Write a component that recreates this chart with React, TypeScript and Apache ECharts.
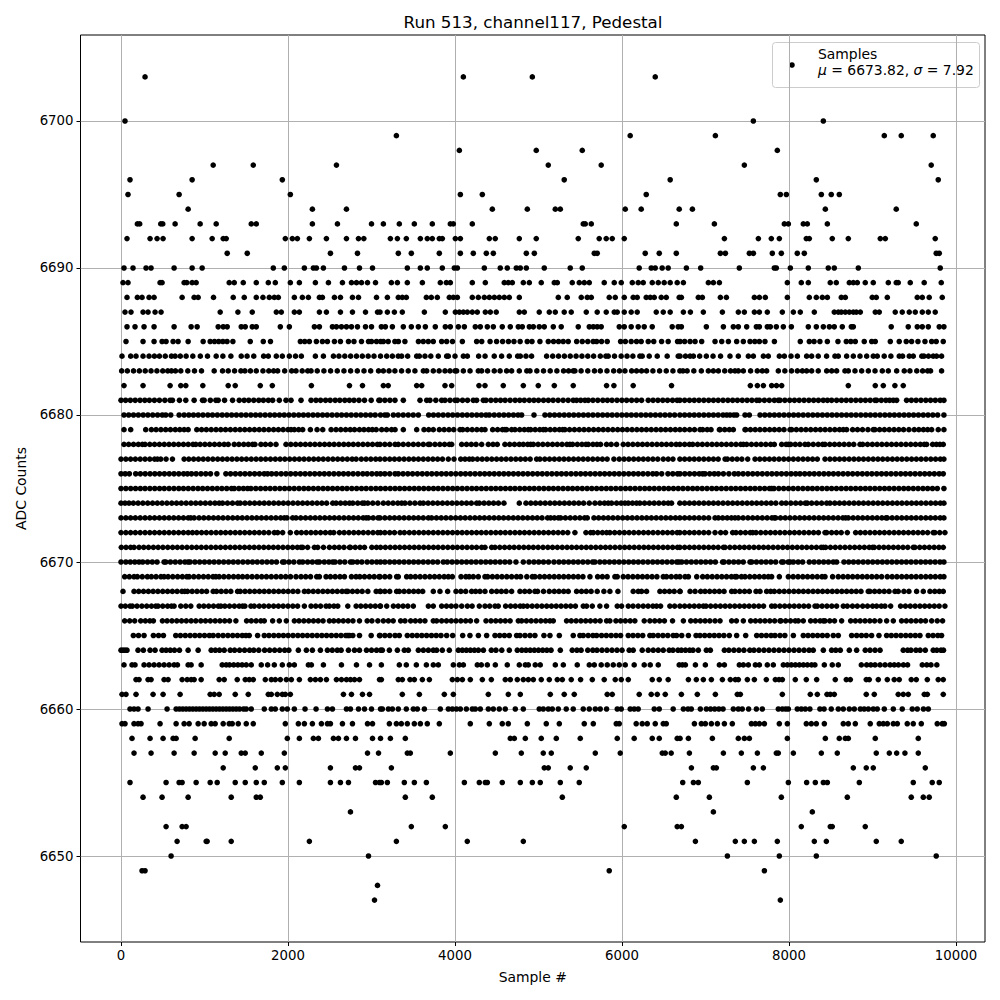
import React, { useEffect, useRef } from "react";
import * as echarts from "echarts";

// Sample numbers, one list per ADC level.
const s6703 = [288, 4100, 4926, 6398];
const s6700 = [48, 7573, 8411];
const s6699 = [3298, 6098, 7118, 9141, 9344, 9727];
const s6698 = [4052, 4973, 5524, 7860];
const s6697 = [1104, 1584, 2580, 5117, 5751, 7465, 9703];
const s6696 = [108, 852, 1932, 5308, 6577, 8327, 9787];
const s6695 = [84, 696, 2028, 4064, 4327, 6290, 7896, 7968, 8387, 8506, 8602];
const s6694 = [804, 2292, 2700, 4447, 4866, 5201, 5261, 6039, 6230, 6685, 6843, 8435, 9284];
const s6693 = [196, 224, 476, 500, 648, 948, 1140, 1560, 1620, 2292, 2592, 3000, 3142, 3333, 3513, 3728, 3944, 3980, 4207, 5536, 5560, 5632, 6650, 7106, 7944, 7992, 8171, 8219, 8459, 9524];
const s6692 = [72, 348, 432, 504, 852, 1092, 1224, 1260, 1968, 2052, 2112, 2256, 2460, 2700, 2844, 2908, 3226, 3310, 3417, 3585, 3668, 3728, 3812, 3848, 4004, 4064, 4411, 4482, 4770, 4973, 5476, 5727, 5811, 5883, 6027, 7226, 7633, 7788, 7884, 8207, 8243, 8518, 8710, 9093, 9153, 9751];
const s6691 = [1272, 1512, 2508, 2832, 3321, 3477, 3812, 4064, 4219, 4375, 4459, 4854, 4950, 5668, 5703, 6278, 6446, 6650, 7178, 7238, 7525, 7573, 7800, 7908, 8099, 8183, 9763, 9799];
const s6690 = [36, 144, 300, 360, 636, 852, 972, 1824, 1956, 2196, 2304, 2340, 2424, 2676, 2856, 3012, 3429, 3585, 3668, 3848, 3992, 4028, 4351, 4542, 4626, 4734, 4782, 4854, 5069, 5380, 5524, 6206, 6350, 6398, 6481, 6553, 6771, 6942, 7405, 7824, 7848, 8016, 8231, 8470, 8542, 8830, 9811];
const s6689 = [24, 84, 468, 492, 756, 788, 852, 900, 1296, 1356, 1464, 1620, 1764, 1848, 2028, 2136, 2328, 2484, 2652, 2760, 2820, 2880, 2952, 3048, 3238, 3310, 3429, 3609, 3824, 3896, 3944, 4207, 4363, 4590, 4638, 4686, 4818, 4890, 5033, 5189, 5225, 5404, 5488, 5548, 5608, 5787, 5907, 5991, 6123, 6194, 6254, 6362, 6434, 6505, 6577, 6661, 6735, 7034, 7094, 7166, 7980, 8147, 8231, 8494, 8566, 8722, 8770, 8818, 8913, 9009, 9189, 9284, 9308, 9452, 9619, 9823];
const s6688 = [72, 196, 252, 336, 396, 732, 876, 924, 1108, 1344, 1476, 1620, 1700, 1776, 1836, 1884, 2076, 2172, 2244, 2376, 2412, 2556, 2628, 2772, 2844, 3060, 3190, 3321, 3369, 3417, 3657, 3716, 3788, 3932, 3980, 4028, 4207, 4279, 4351, 4411, 4471, 4530, 4590, 4650, 4770, 5237, 5344, 5512, 5584, 5632, 5847, 5919, 6027, 6134, 6182, 6290, 6338, 6386, 6470, 6530, 6685, 6711, 6914, 6962, 7178, 7250, 7585, 7645, 7716, 7980, 8243, 8327, 8399, 8459, 8626, 8674, 8997, 9045, 9177, 9536, 9596, 9679, 9835];
const s6687 = [48, 120, 264, 324, 408, 480, 1188, 1400, 1572, 1860, 1920, 2076, 2136, 2376, 2460, 2628, 2772, 2928, 3072, 3102, 3190, 3274, 3369, 3633, 3884, 4004, 4052, 4100, 4148, 4207, 4267, 4363, 4423, 4494, 4770, 4830, 5009, 5129, 5201, 5308, 5392, 5572, 5703, 5811, 5907, 5943, 6027, 6110, 6182, 6410, 6494, 6577, 6735, 6819, 6974, 7202, 7393, 7465, 7585, 7645, 7740, 7920, 8052, 8135, 8303, 8542, 8590, 8626, 8674, 8722, 8770, 8806, 8854, 9033, 9081, 9272, 9356, 9440, 9512, 9596, 9668, 9751];
const s6686 = [72, 168, 276, 396, 636, 840, 912, 1164, 1224, 1272, 1440, 1488, 1572, 1620, 1908, 2016, 2316, 2376, 2532, 2580, 2640, 2700, 2760, 2832, 2928, 3000, 3118, 3166, 3250, 3381, 3477, 3561, 3645, 3764, 3884, 3944, 4040, 4112, 4243, 4303, 4387, 4459, 4566, 4662, 4758, 4806, 4890, 4938, 5009, 5069, 5177, 5272, 5476, 5608, 5656, 5703, 5751, 5967, 6027, 6110, 6194, 6266, 6362, 6601, 6673, 6711, 7010, 7214, 7333, 7393, 7493, 7609, 7645, 7740, 7776, 7848, 7932, 8028, 8231, 8327, 8411, 8483, 8542, 8638, 8746, 8770, 9224, 9428, 9536, 9596, 9668, 9799, 9855];
const s6685 = [60, 264, 396, 492, 540, 624, 684, 804, 984, 1068, 1120, 1170, 1220, 1270, 1340, 1548, 1704, 1790, 2148, 2200, 2256, 2340, 2412, 2472, 2556, 2628, 2724, 2790, 2880, 2964, 3000, 3060, 3110, 3142, 3200, 3280, 3322, 3400, 3562, 3620, 3680, 3740, 3840, 3900, 3970, 4088, 4259, 4320, 4420, 4498, 4570, 4640, 4706, 4780, 4865, 4922, 5017, 5117, 5180, 5240, 5296, 5356, 5457, 5524, 5590, 5655, 5696, 5755, 5823, 5983, 6040, 6110, 6174, 6230, 6314, 6380, 6474, 6553, 6665, 6695, 6750, 6815, 6875, 6954, 7114, 7194, 7274, 7373, 7453, 7533, 7590, 7645, 7712, 7825, 8135, 8243, 8300, 8370, 8459, 8586, 8686, 8740, 8794, 8901, 8990, 9033, 9213, 9320, 9404, 9468, 9544, 9628, 9708, 9763, 9847];
const s6684 = [12, 116, 180, 264, 336, 400, 460, 530, 604, 648, 710, 780, 860, 950, 1036, 1140, 1220, 1316, 1440, 1510, 1590, 1708, 1764, 1860, 1932, 2016, 2090, 2160, 2328, 2424, 2544, 2610, 2680, 2750, 2820, 2890, 2960, 3030, 3108, 3182, 3250, 3320, 3361, 3433, 3541, 3573, 3640, 3710, 3800, 3900, 3920, 4000, 4100, 4148, 4283, 4360, 4470, 4558, 4650, 4750, 4782, 4850, 4917, 5097, 5170, 5240, 5310, 5380, 5450, 5520, 5590, 5660, 5740, 5807, 5835, 5910, 5990, 6060, 6130, 6214, 6242, 6326, 6422, 6541, 6673, 6695, 6760, 6815, 6855, 6930, 7010, 7090, 7180, 7293, 7393, 7513, 7573, 7693, 7752, 7884, 7944, 8024, 8100, 8211, 8271, 8350, 8450, 8550, 8590, 8690, 8770, 8850, 8930, 9009, 9057, 9140, 9220, 9320, 9360, 9440, 9488, 9590, 9616, 9670, 9727, 9767, 9827];
const s6683 = [8, 76, 150, 220, 290, 360, 430, 500, 560, 604, 652, 716, 800, 880, 964, 1116, 1216, 1284, 1360, 1436, 1484, 1550, 1620, 1700, 1770, 1828, 1876, 1960, 2044, 2096, 2170, 2236, 2276, 2350, 2430, 2510, 2590, 2670, 2750, 2830, 2910, 2990, 3084, 3142, 3210, 3280, 3360, 3440, 3520, 3621, 3661, 3740, 3810, 3880, 3940, 4000, 4020, 4100, 4180, 4279, 4319, 4390, 4470, 4540, 4618, 4678, 4770, 4860, 4898, 4980, 5060, 5140, 5220, 5300, 5360, 5416, 5436, 5510, 5590, 5670, 5740, 5820, 5900, 5970, 6035, 6115, 6174, 6234, 6294, 6370, 6450, 6530, 6610, 6693, 6730, 6780, 6860, 6950, 7034, 7094, 7154, 7230, 7300, 7353, 7393, 7453, 7540, 7620, 7680, 7732, 7872, 7950, 8030, 8100, 8160, 8211, 8271, 8350, 8451, 8511, 8570, 8670, 8710, 8790, 8870, 8950, 9030, 9117, 9189, 9289, 9380, 9448, 9530, 9600, 9660, 9695, 9827];
const s6682 = [36, 264, 588, 716, 776, 980, 1284, 1368, 1668, 1812, 2280, 2736, 2892, 3142, 3200, 3541, 3601, 3880, 3960, 4287, 4359, 4578, 4818, 4997, 5189, 5416, 5815, 5903, 6134, 6593, 7537, 7621, 7693, 7792, 7850, 7912, 8710, 9033, 9129, 9268, 9368];
const s6681 = [0, 55, 112, 170, 228, 285, 340, 400, 460, 525, 588, 616, 700, 776, 876, 976, 996, 1070, 1136, 1164, 1240, 1336, 1416, 1475, 1530, 1590, 1650, 1705, 1765, 1816, 1896, 1976, 2036, 2156, 2276, 2335, 2390, 2450, 2505, 2565, 2620, 2680, 2735, 2790, 2850, 2916, 2996, 3088, 3102, 3160, 3220, 3281, 3381, 3581, 3661, 3700, 3770, 3840, 3880, 3940, 4000, 4028, 4090, 4150, 4219, 4259, 4339, 4371, 4430, 4488, 4545, 4600, 4660, 4720, 4775, 4830, 4890, 4945, 5000, 5060, 5118, 5175, 5235, 5295, 5355, 5416, 5456, 5505, 5556, 5596, 5652, 5710, 5770, 5825, 5880, 5940, 5998, 6055, 6115, 6175, 6234, 6314, 6372, 6430, 6488, 6545, 6605, 6660, 6693, 6750, 6808, 6865, 6922, 6980, 7038, 7095, 7152, 7210, 7268, 7325, 7382, 7440, 7498, 7555, 7613, 7645, 7705, 7764, 7824, 7872, 7892, 7950, 8008, 8065, 8122, 8180, 8238, 8295, 8352, 8410, 8460, 8510, 8570, 8628, 8685, 8742, 8800, 8858, 8915, 8972, 9029, 9049, 9105, 9160, 9205, 9249, 9289, 9408, 9465, 9522, 9580, 9638, 9695, 9752, 9810, 9855];
const s6680 = [36, 92, 150, 208, 266, 322, 380, 438, 495, 536, 596, 696, 756, 812, 868, 925, 982, 1040, 1096, 1154, 1212, 1268, 1325, 1382, 1440, 1497, 1555, 1612, 1668, 1726, 1784, 1840, 1898, 1955, 2012, 2070, 2128, 2185, 2242, 2300, 2356, 2414, 2470, 2528, 2586, 2642, 2700, 2757, 2815, 2872, 2930, 2988, 3044, 3108, 3160, 3190, 3262, 3320, 3380, 3440, 3500, 3561, 3685, 3742, 3800, 3858, 3916, 3972, 4030, 4088, 4145, 4202, 4260, 4316, 4371, 4411, 4470, 4528, 4585, 4642, 4700, 4755, 4798, 4946, 5077, 5135, 5192, 5250, 5308, 5365, 5422, 5480, 5538, 5595, 5652, 5710, 5768, 5825, 5882, 5940, 5998, 6055, 6112, 6170, 6228, 6285, 6342, 6400, 6458, 6515, 6572, 6630, 6693, 6750, 6808, 6865, 6922, 6980, 7038, 7095, 7152, 7210, 7254, 7294, 7340, 7373, 7473, 7525, 7653, 7710, 7768, 7825, 7882, 7940, 7998, 8055, 8112, 8170, 8228, 8285, 8342, 8400, 8458, 8515, 8572, 8630, 8688, 8745, 8802, 8860, 8918, 8975, 9032, 9090, 9148, 9205, 9262, 9320, 9378, 9435, 9492, 9550, 9608, 9665, 9722, 9780, 9855];
const s6679 = [36, 116, 296, 364, 420, 478, 535, 592, 650, 704, 756, 804, 908, 965, 1022, 1080, 1138, 1195, 1252, 1310, 1368, 1425, 1482, 1540, 1598, 1655, 1712, 1770, 1828, 1885, 1942, 2000, 2036, 2076, 2128, 2176, 2268, 2348, 2416, 2516, 2575, 2632, 2690, 2745, 2796, 2856, 2910, 2965, 3010, 3056, 3122, 3180, 3240, 3282, 3381, 3541, 3629, 3685, 3740, 3812, 3870, 3928, 3985, 4060, 4092, 4148, 4205, 4262, 4318, 4359, 4451, 4510, 4568, 4598, 4618, 4678, 4718, 4775, 4830, 4878, 4906, 4960, 5015, 5057, 5085, 5140, 5195, 5250, 5290, 5316, 5372, 5430, 5488, 5545, 5602, 5660, 5718, 5775, 5832, 5890, 5948, 6005, 6062, 6120, 6178, 6235, 6292, 6350, 6408, 6465, 6522, 6580, 6638, 6693, 6750, 6810, 6868, 6934, 6966, 7020, 7066, 7166, 7174, 7230, 7285, 7333, 7473, 7481, 7538, 7595, 7652, 7710, 7768, 7825, 7882, 7940, 8012, 8032, 8088, 8145, 8202, 8260, 8318, 8375, 8432, 8490, 8548, 8605, 8650, 8690, 8762, 8820, 8880, 8945, 9009, 9029, 9085, 9142, 9200, 9258, 9315, 9372, 9436, 9500, 9555, 9610, 9660, 9708, 9787, 9855];
const s6678 = [36, 92, 150, 208, 256, 288, 345, 402, 460, 518, 575, 632, 690, 748, 805, 862, 896, 948, 1005, 1062, 1120, 1178, 1235, 1284, 1356, 1412, 1470, 1525, 1576, 1604, 1676, 1730, 1790, 1856, 1976, 2034, 2092, 2150, 2208, 2265, 2322, 2380, 2438, 2495, 2552, 2610, 2668, 2725, 2782, 2840, 2898, 2955, 3012, 3070, 3102, 3160, 3218, 3282, 3321, 3380, 3441, 3501, 3560, 3620, 3680, 3700, 3760, 3818, 3875, 3932, 3960, 4080, 4138, 4195, 4252, 4319, 4399, 4455, 4506, 4598, 4655, 4712, 4770, 4818, 4870, 4906, 4938, 4995, 5052, 5110, 5168, 5225, 5282, 5340, 5376, 5408, 5465, 5520, 5568, 5596, 5652, 5700, 5743, 5815, 5870, 5935, 6015, 6072, 6130, 6188, 6245, 6302, 6360, 6418, 6475, 6532, 6590, 6648, 6693, 6750, 6807, 6847, 6905, 6962, 7020, 7078, 7135, 7192, 7250, 7308, 7365, 7422, 7453, 7493, 7550, 7608, 7665, 7722, 7780, 7824, 7912, 7965, 7992, 8020, 8075, 8130, 8191, 8231, 8290, 8350, 8403, 8431, 8488, 8545, 8602, 8660, 8718, 8775, 8850, 8882, 8940, 8998, 9055, 9112, 9170, 9228, 9285, 9342, 9400, 9458, 9515, 9572, 9620, 9648, 9720, 9765, 9807, 9847];
const s6677 = [0, 58, 115, 172, 230, 288, 345, 402, 436, 476, 540, 616, 756, 812, 870, 928, 985, 1042, 1100, 1158, 1215, 1272, 1330, 1388, 1445, 1502, 1560, 1618, 1675, 1732, 1790, 1848, 1905, 1962, 2020, 2078, 2135, 2192, 2250, 2308, 2365, 2422, 2480, 2538, 2595, 2652, 2710, 2768, 2816, 2878, 2935, 2992, 3050, 3102, 3160, 3218, 3275, 3332, 3390, 3448, 3505, 3562, 3620, 3678, 3735, 3792, 3850, 3920, 3988, 4068, 4120, 4171, 4211, 4268, 4325, 4382, 4440, 4498, 4555, 4612, 4670, 4728, 4785, 4842, 4900, 4977, 5017, 5075, 5132, 5190, 5248, 5305, 5362, 5420, 5478, 5535, 5592, 5650, 5708, 5765, 5822, 5903, 5967, 6025, 6082, 6140, 6198, 6255, 6312, 6370, 6428, 6494, 6553, 6610, 6693, 6750, 6808, 6865, 6922, 6980, 7038, 7095, 7152, 7234, 7262, 7320, 7378, 7435, 7505, 7593, 7650, 7708, 7765, 7822, 7880, 7938, 7995, 8052, 8110, 8168, 8225, 8282, 8339, 8431, 8490, 8548, 8605, 8662, 8720, 8778, 8835, 8892, 8950, 9008, 9065, 9122, 9180, 9238, 9295, 9352, 9410, 9468, 9525, 9582, 9640, 9698, 9755, 9812, 9855];
const s6676 = [0, 50, 100, 176, 232, 290, 348, 405, 462, 520, 578, 635, 692, 750, 796, 844, 900, 958, 1015, 1072, 1148, 1256, 1312, 1370, 1428, 1485, 1542, 1600, 1658, 1715, 1756, 1804, 1860, 1918, 1975, 2032, 2090, 2148, 2205, 2262, 2320, 2378, 2435, 2492, 2550, 2608, 2665, 2722, 2780, 2838, 2896, 2948, 3005, 3062, 3108, 3160, 3218, 3282, 3321, 3378, 3435, 3492, 3550, 3608, 3665, 3722, 3780, 3838, 3895, 3952, 4010, 4068, 4125, 4182, 4240, 4298, 4355, 4412, 4470, 4528, 4585, 4642, 4700, 4758, 4815, 4872, 4930, 4988, 5045, 5102, 5160, 5218, 5275, 5332, 5390, 5448, 5505, 5562, 5620, 5678, 5735, 5792, 5850, 5908, 5965, 6022, 6080, 6138, 6195, 6252, 6310, 6368, 6414, 6475, 6550, 6608, 6665, 6695, 6752, 6810, 6868, 6925, 6966, 6994, 7050, 7105, 7154, 7214, 7280, 7345, 7393, 7450, 7508, 7565, 7622, 7680, 7738, 7795, 7852, 7910, 7968, 8025, 8080, 8131, 8188, 8245, 8302, 8360, 8418, 8475, 8532, 8590, 8648, 8705, 8762, 8820, 8878, 8935, 8992, 9050, 9108, 9165, 9222, 9280, 9338, 9395, 9452, 9510, 9568, 9625, 9682, 9740, 9798, 9847];
const s6675 = [0, 58, 116, 174, 232, 288, 346, 404, 462, 518, 576, 634, 692, 748, 806, 864, 922, 978, 1036, 1094, 1152, 1208, 1266, 1324, 1356, 1412, 1466, 1516, 1556, 1614, 1672, 1730, 1786, 1844, 1902, 1960, 2016, 2074, 2132, 2190, 2246, 2304, 2362, 2420, 2476, 2534, 2592, 2650, 2706, 2764, 2822, 2880, 2936, 2994, 3052, 3108, 3166, 3224, 3282, 3338, 3396, 3454, 3512, 3568, 3626, 3684, 3742, 3798, 3856, 3914, 3972, 4028, 4086, 4144, 4202, 4258, 4316, 4374, 4432, 4488, 4546, 4604, 4662, 4718, 4776, 4834, 4892, 4948, 5006, 5064, 5122, 5178, 5236, 5294, 5352, 5408, 5466, 5524, 5582, 5638, 5696, 5754, 5812, 5868, 5926, 5984, 6042, 6098, 6156, 6214, 6272, 6328, 6386, 6444, 6502, 6558, 6616, 6673, 6730, 6788, 6846, 6902, 6960, 7018, 7076, 7132, 7190, 7248, 7306, 7362, 7420, 7478, 7536, 7592, 7650, 7708, 7766, 7792, 7820, 7878, 7936, 7994, 8050, 8108, 8166, 8224, 8280, 8338, 8396, 8454, 8510, 8568, 8626, 8684, 8740, 8798, 8856, 8914, 8970, 9028, 9086, 9144, 9200, 9258, 9316, 9374, 9430, 9488, 9546, 9604, 9660, 9718, 9776, 9855];
const s6674 = [0, 48, 96, 148, 205, 262, 320, 378, 435, 492, 550, 608, 665, 722, 780, 838, 895, 952, 1010, 1068, 1125, 1176, 1216, 1275, 1335, 1396, 1428, 1485, 1542, 1600, 1658, 1715, 1772, 1830, 1888, 1945, 2002, 2060, 2118, 2175, 2232, 2290, 2348, 2405, 2462, 2536, 2576, 2630, 2685, 2736, 2776, 2835, 2890, 2916, 2956, 3015, 3076, 3142, 3200, 3258, 3315, 3361, 3401, 3460, 3520, 3581, 3621, 3678, 3735, 3792, 3850, 3908, 3965, 4022, 4080, 4138, 4195, 4259, 4291, 4348, 4405, 4462, 4520, 4586, 4770, 4850, 4908, 4965, 5022, 5080, 5138, 5195, 5252, 5310, 5368, 5425, 5482, 5540, 5608, 5676, 5735, 5790, 5835, 5875, 5935, 5990, 6035, 6075, 6125, 6174, 6214, 6270, 6328, 6385, 6442, 6500, 6553, 6593, 6693, 6750, 6808, 6865, 6922, 6980, 7038, 7095, 7152, 7210, 7268, 7325, 7382, 7440, 7498, 7555, 7612, 7670, 7728, 7785, 7842, 7912, 7964, 8022, 8080, 8138, 8195, 8219, 8271, 8331, 8390, 8451, 8491, 8548, 8605, 8662, 8720, 8778, 8835, 8892, 8950, 9008, 9065, 9122, 9180, 9238, 9295, 9352, 9410, 9468, 9525, 9582, 9640, 9698, 9755, 9812, 9855];
const s6673 = [0, 58, 115, 172, 230, 288, 345, 402, 460, 518, 575, 632, 690, 748, 805, 836, 876, 935, 992, 1050, 1108, 1165, 1222, 1280, 1338, 1395, 1452, 1510, 1568, 1625, 1682, 1740, 1798, 1855, 1912, 1956, 1988, 2056, 2096, 2152, 2210, 2268, 2325, 2382, 2440, 2498, 2555, 2612, 2670, 2728, 2785, 2842, 2900, 2936, 2964, 3020, 3078, 3102, 3160, 3218, 3275, 3332, 3390, 3448, 3505, 3562, 3620, 3681, 3720, 3778, 3835, 3892, 3950, 4008, 4065, 4122, 4180, 4238, 4295, 4352, 4410, 4468, 4525, 4582, 4640, 4698, 4755, 4812, 4870, 4928, 4985, 5042, 5109, 5145, 5190, 5237, 5265, 5322, 5380, 5438, 5495, 5552, 5584, 5664, 5720, 5778, 5835, 5892, 5950, 6008, 6065, 6122, 6180, 6238, 6295, 6352, 6410, 6468, 6525, 6582, 6640, 6693, 6750, 6808, 6865, 6922, 6980, 7038, 7114, 7154, 7205, 7260, 7310, 7353, 7393, 7450, 7508, 7565, 7622, 7680, 7738, 7795, 7824, 7840, 7898, 7955, 8012, 8070, 8128, 8185, 8242, 8300, 8358, 8415, 8472, 8530, 8588, 8645, 8678, 8710, 8768, 8825, 8882, 8940, 8998, 9055, 9112, 9161, 9177, 9235, 9292, 9350, 9408, 9465, 9522, 9580, 9638, 9695, 9752, 9810, 9855];
const s6672 = [0, 58, 115, 172, 230, 288, 345, 402, 460, 518, 575, 632, 690, 748, 805, 856, 908, 965, 1022, 1080, 1138, 1195, 1252, 1310, 1368, 1425, 1482, 1540, 1598, 1655, 1712, 1770, 1836, 1876, 1936, 2028, 2104, 2160, 2218, 2275, 2332, 2390, 2448, 2505, 2548, 2616, 2672, 2730, 2788, 2845, 2902, 2960, 3018, 3075, 3108, 3160, 3218, 3275, 3342, 3393, 3453, 3510, 3568, 3625, 3682, 3740, 3798, 3855, 3912, 3970, 4028, 4085, 4142, 4200, 4258, 4315, 4372, 4430, 4488, 4545, 4602, 4660, 4718, 4775, 4832, 4890, 4948, 5005, 5062, 5120, 5178, 5235, 5292, 5350, 5436, 5568, 5624, 5656, 5710, 5765, 5815, 5855, 5912, 5970, 6028, 6085, 6142, 6200, 6258, 6315, 6372, 6430, 6488, 6545, 6602, 6660, 6693, 6750, 6808, 6865, 6922, 6980, 7038, 7114, 7182, 7240, 7325, 7365, 7420, 7478, 7535, 7565, 7605, 7662, 7720, 7778, 7835, 7892, 7950, 8008, 8065, 8122, 8180, 8238, 8295, 8352, 8431, 8451, 8510, 8568, 8625, 8698, 8798, 8855, 8912, 8970, 9028, 9085, 9142, 9200, 9258, 9315, 9372, 9430, 9488, 9545, 9602, 9660, 9727, 9747, 9805, 9867];
const s6671 = [4, 60, 115, 156, 216, 272, 330, 388, 445, 502, 560, 618, 675, 732, 790, 848, 905, 962, 1020, 1078, 1135, 1192, 1250, 1308, 1365, 1422, 1480, 1538, 1595, 1652, 1710, 1768, 1825, 1882, 1940, 1998, 2055, 2112, 2156, 2176, 2235, 2316, 2356, 2425, 2496, 2556, 2612, 2670, 2736, 2748, 2805, 2862, 2916, 3004, 3060, 3108, 3166, 3224, 3282, 3338, 3396, 3454, 3512, 3568, 3626, 3684, 3742, 3798, 3856, 3914, 3972, 4028, 4086, 4144, 4202, 4258, 4319, 4359, 4439, 4479, 4536, 4594, 4652, 4708, 4766, 4824, 4882, 4938, 4996, 5054, 5112, 5168, 5226, 5284, 5342, 5398, 5456, 5514, 5572, 5628, 5686, 5744, 5802, 5858, 5916, 5974, 6032, 6088, 6146, 6204, 6262, 6318, 6376, 6434, 6492, 6548, 6606, 6664, 6693, 6750, 6808, 6865, 6922, 6980, 7038, 7095, 7152, 7214, 7234, 7292, 7350, 7408, 7465, 7522, 7580, 7638, 7695, 7752, 7810, 7868, 7925, 7982, 8040, 8098, 8155, 8212, 8270, 8328, 8385, 8411, 8439, 8496, 8554, 8612, 8670, 8728, 8786, 8844, 8902, 8960, 9001, 9021, 9078, 9135, 9192, 9250, 9308, 9365, 9422, 9488, 9508, 9565, 9622, 9680, 9738, 9795, 9847];
const s6670 = [0, 58, 112, 165, 216, 260, 318, 375, 432, 516, 536, 592, 650, 708, 765, 804, 828, 885, 942, 1000, 1058, 1115, 1172, 1230, 1288, 1345, 1402, 1460, 1518, 1575, 1632, 1690, 1748, 1805, 1862, 1936, 1956, 2012, 2070, 2136, 2176, 2235, 2292, 2348, 2376, 2435, 2490, 2536, 2564, 2622, 2680, 2748, 2776, 2830, 2884, 2948, 3005, 3062, 3108, 3160, 3218, 3275, 3332, 3390, 3448, 3505, 3562, 3620, 3678, 3735, 3792, 3860, 3908, 3965, 4022, 4080, 4138, 4195, 4252, 4310, 4368, 4425, 4482, 4540, 4598, 4655, 4730, 4818, 4886, 4945, 5002, 5060, 5120, 5185, 5245, 5302, 5360, 5418, 5475, 5532, 5590, 5648, 5676, 5735, 5792, 5850, 5908, 5965, 6022, 6080, 6138, 6195, 6252, 6310, 6368, 6425, 6482, 6540, 6598, 6655, 6681, 6715, 6772, 6830, 6888, 6945, 7002, 7060, 7118, 7205, 7222, 7280, 7338, 7395, 7452, 7533, 7553, 7610, 7668, 7725, 7782, 7840, 7912, 7932, 7990, 8012, 8052, 8110, 8163, 8243, 8300, 8358, 8415, 8472, 8530, 8570, 8658, 8715, 8772, 8830, 8888, 8945, 9002, 9060, 9118, 9175, 9232, 9290, 9348, 9405, 9462, 9520, 9578, 9635, 9692, 9750, 9808, 9855];
const s6669 = [44, 100, 156, 196, 255, 316, 364, 420, 478, 516, 564, 620, 678, 735, 788, 816, 872, 930, 988, 1045, 1102, 1136, 1176, 1232, 1290, 1348, 1404, 1456, 1512, 1570, 1628, 1685, 1742, 1800, 1858, 1915, 1972, 2030, 2096, 2156, 2212, 2270, 2344, 2376, 2456, 2508, 2565, 2622, 2676, 2760, 2815, 2860, 2916, 2975, 3032, 3090, 3102, 3160, 3218, 3301, 3321, 3421, 3469, 3525, 3582, 3640, 3698, 3755, 3812, 3870, 3920, 3968, 4072, 4130, 4170, 4219, 4279, 4359, 4391, 4448, 4505, 4562, 4620, 4678, 4738, 4786, 4860, 4926, 4957, 5015, 5072, 5130, 5188, 5245, 5302, 5360, 5418, 5475, 5532, 5616, 5708, 5765, 5822, 5915, 5943, 6015, 6072, 6130, 6188, 6245, 6302, 6360, 6418, 6494, 6533, 6590, 6648, 6693, 6755, 6795, 6895, 6966, 7022, 7080, 7138, 7195, 7252, 7310, 7353, 7373, 7430, 7473, 7530, 7588, 7645, 7702, 7752, 7792, 7884, 7992, 8050, 8108, 8165, 8222, 8280, 8338, 8395, 8431, 8522, 8590, 8648, 8705, 8762, 8820, 8878, 8935, 8992, 9050, 9109, 9177, 9235, 9292, 9350, 9408, 9465, 9522, 9580, 9638, 9695, 9752, 9810, 9855];
const s6668 = [24, 156, 212, 270, 328, 385, 442, 500, 558, 615, 672, 730, 764, 796, 852, 910, 968, 1025, 1104, 1144, 1200, 1258, 1315, 1396, 1428, 1485, 1542, 1600, 1658, 1715, 1772, 1830, 1888, 1945, 2002, 2060, 2118, 2196, 2244, 2302, 2360, 2418, 2475, 2532, 2590, 2648, 2696, 2716, 2772, 2830, 2888, 2956, 3056, 3108, 3102, 3160, 3218, 3301, 3333, 3390, 3448, 3505, 3561, 3613, 3740, 3820, 3912, 4012, 4070, 4128, 4199, 4247, 4299, 4359, 4439, 4499, 4555, 4612, 4678, 4778, 4835, 4892, 4957, 4989, 5060, 5129, 5189, 5245, 5302, 5356, 5456, 5515, 5572, 5630, 5703, 5783, 5855, 5951, 6134, 6194, 6234, 6294, 6454, 6510, 6568, 6625, 6693, 6695, 6815, 6875, 6942, 6994, 7050, 7108, 7165, 7222, 7313, 7353, 7410, 7468, 7525, 7605, 7653, 7732, 7780, 7824, 7884, 7942, 8000, 8058, 8115, 8172, 8230, 8288, 8345, 8402, 8460, 8518, 8575, 8632, 8690, 8748, 8805, 8862, 8949, 8969, 9025, 9082, 9140, 9198, 9269, 9308, 9376, 9436, 9528, 9608, 9688, 9745, 9800, 9847];
const s6667 = [0, 52, 108, 136, 192, 250, 308, 365, 416, 444, 500, 558, 604, 636, 716, 776, 836, 936, 992, 1050, 1108, 1165, 1196, 1244, 1300, 1358, 1415, 1456, 1484, 1556, 1596, 1656, 1712, 1770, 1828, 1885, 1942, 2000, 2058, 2115, 2196, 2276, 2332, 2390, 2456, 2496, 2550, 2596, 2716, 2816, 2872, 2930, 2988, 3045, 3108, 3102, 3182, 3262, 3320, 3378, 3435, 3501, 3681, 3740, 3840, 3898, 3955, 4012, 4080, 4148, 4205, 4291, 4359, 4415, 4479, 4518, 4606, 4666, 4722, 4780, 4818, 4866, 4924, 4982, 5040, 5098, 5155, 5212, 5270, 5328, 5385, 5442, 5536, 5576, 5644, 5735, 5815, 5943, 5995, 6075, 6132, 6194, 6254, 6312, 6370, 6414, 6462, 6573, 6630, 6693, 6750, 6808, 6865, 6922, 6974, 7006, 7062, 7120, 7178, 7235, 7292, 7350, 7408, 7465, 7522, 7580, 7638, 7695, 7792, 7832, 7890, 7948, 8005, 8062, 8120, 8178, 8235, 8311, 8339, 8396, 8454, 8512, 8570, 8650, 8698, 8760, 8818, 8882, 8940, 9001, 9049, 9105, 9149, 9217, 9336, 9394, 9452, 9510, 9568, 9625, 9682, 9740, 9798, 9867];
const s6666 = [44, 104, 164, 236, 292, 346, 388, 496, 552, 610, 668, 725, 782, 840, 896, 956, 1012, 1070, 1128, 1185, 1242, 1300, 1376, 1504, 1560, 1618, 1675, 1716, 1816, 1896, 1980, 2076, 2132, 2190, 2248, 2305, 2362, 2420, 2496, 2548, 2605, 2662, 2720, 2778, 2856, 2948, 3005, 3076, 3142, 3202, 3260, 3349, 3401, 3469, 3525, 3582, 3640, 3740, 3780, 3840, 3898, 3955, 4012, 4070, 4128, 4185, 4259, 4371, 4431, 4488, 4545, 4602, 4660, 4758, 4798, 4855, 4912, 4970, 5028, 5085, 5137, 5177, 5336, 5392, 5450, 5508, 5565, 5622, 5680, 5738, 5815, 5855, 5927, 5983, 6040, 6098, 6154, 6266, 6334, 6392, 6450, 6508, 6605, 6735, 6823, 6880, 6938, 6995, 7052, 7114, 7174, 7313, 7370, 7453, 7541, 7598, 7655, 7712, 7770, 7828, 7892, 7904, 7960, 8018, 8075, 8111, 8171, 8259, 8315, 8372, 8411, 8431, 8488, 8545, 8630, 8738, 8795, 8852, 8910, 8968, 9025, 9089, 9169, 9249, 9348, 9405, 9462, 9520, 9578, 9635, 9708, 9775, 9839];
const s6665 = [148, 210, 276, 388, 450, 508, 656, 712, 770, 828, 885, 942, 1000, 1058, 1104, 1164, 1222, 1280, 1338, 1395, 1452, 1496, 1536, 1636, 1716, 1772, 1830, 1888, 1945, 2002, 2060, 2118, 2175, 2232, 2290, 2348, 2405, 2462, 2520, 2578, 2635, 2692, 2716, 2736, 2776, 2856, 2996, 3096, 3102, 3160, 3218, 3282, 3333, 3429, 3488, 3545, 3602, 3660, 3718, 3775, 3832, 3900, 3972, 4092, 4179, 4280, 4379, 4479, 4535, 4592, 4650, 4738, 4778, 4838, 4898, 4957, 5065, 5137, 5249, 5416, 5496, 5536, 5595, 5652, 5696, 5755, 5812, 5870, 5928, 5983, 6075, 6132, 6190, 6248, 6334, 6374, 6432, 6490, 6548, 6613, 6653, 6715, 6795, 6887, 6934, 6990, 7048, 7105, 7162, 7220, 7285, 7373, 7481, 7613, 7670, 7728, 7785, 7832, 7892, 7950, 8052, 8171, 8228, 8285, 8342, 8400, 8458, 8530, 8590, 8750, 8810, 8868, 8925, 8989, 9077, 9169, 9225, 9282, 9340, 9398, 9455, 9512, 9568, 9668, 9725, 9782, 9827];
const s6664 = [0, 24, 48, 72, 204, 268, 348, 408, 492, 540, 590, 640, 700, 804, 924, 1080, 1130, 1180, 1236, 1308, 1360, 1420, 1480, 1540, 1590, 1650, 1720, 1780, 1840, 1900, 1960, 2010, 2124, 2220, 2292, 2388, 2472, 2530, 2590, 2636, 2724, 2796, 2856, 2940, 3000, 3060, 3110, 3130, 3214, 3310, 3393, 3441, 3561, 3621, 3681, 3740, 3780, 3848, 3932, 4040, 4088, 4136, 4184, 4232, 4280, 4340, 4435, 4490, 4560, 4650, 4746, 4800, 4850, 4900, 4950, 5000, 5050, 5100, 5150, 5261, 5404, 5460, 5510, 5590, 5650, 5700, 5760, 5820, 5880, 5940, 6000, 6086, 6134, 6242, 6314, 6374, 6434, 6494, 6565, 6610, 6670, 6711, 6760, 6810, 6850, 6914, 7010, 7058, 7226, 7280, 7340, 7400, 7460, 7530, 7580, 7640, 7700, 7760, 7820, 7880, 7940, 8000, 8060, 8120, 8180, 8240, 8290, 8411, 8510, 8560, 8614, 8722, 8810, 8913, 8970, 9030, 9090, 9368, 9420, 9460, 9520, 9570, 9632, 9727, 9770, 9820, 9850];
const s6663 = [36, 132, 168, 276, 336, 396, 456, 516, 576, 636, 676, 804, 840, 960, 1212, 1260, 1300, 1350, 1400, 1450, 1500, 1560, 1680, 1756, 1836, 1932, 2016, 2076, 2244, 2280, 2424, 2640, 2820, 2976, 3118, 3333, 3417, 3537, 3657, 3740, 3800, 3980, 4052, 4100, 4267, 4315, 4387, 4483, 4626, 4770, 4842, 4878, 4961, 5021, 5201, 5297, 5464, 5608, 5668, 5751, 5823, 5895, 5967, 6039, 6146, 6266, 6338, 6434, 6685, 6723, 6759, 6879, 6998, 7166, 7226, 7405, 7453, 7513, 7597, 7645, 7740, 7812, 7932, 7980, 8028, 8076, 8124, 8172, 8220, 8270, 8310, 8423, 8518, 8590, 8866, 8930, 8980, 9030, 9090, 9150, 9210, 9260, 9310, 9370, 9420, 9596, 9650, 9700, 9770];
const s6662 = [180, 216, 324, 360, 516, 564, 732, 792, 840, 876, 960, 1176, 1236, 1392, 1488, 1536, 1584, 1728, 1800, 1848, 1908, 1980, 2040, 2136, 2268, 2328, 2388, 2460, 2580, 2640, 2700, 2748, 2796, 2856, 3096, 3118, 3321, 3369, 3461, 3513, 3609, 3693, 3968, 4028, 4088, 4183, 4327, 4435, 4602, 4662, 4746, 4818, 4878, 4938, 5033, 5129, 5225, 5285, 5392, 5504, 5644, 5787, 5919, 5991, 6075, 6362, 6446, 6553, 6795, 6890, 6974, 7070, 7202, 7297, 7357, 7393, 7501, 7585, 7728, 7836, 7880, 7920, 8075, 8207, 8331, 8554, 8686, 8734, 8925, 8961, 9069, 9177, 9260, 9320, 9464, 9524, 9656, 9787, 9847];
const s6661 = [12, 60, 180, 384, 504, 708, 1068, 1116, 1176, 1368, 1524, 1764, 1800, 1872, 1932, 1968, 2028, 2664, 2760, 2892, 2976, 3369, 3573, 3872, 3980, 4399, 4638, 4782, 5141, 5308, 5428, 5823, 5883, 6206, 6350, 6422, 6518, 6711, 6902, 7118, 7381, 7417, 7920, 8255, 8339, 8455, 8494, 8542, 8925, 9021, 9308, 9368, 9428, 9620, 9656, 9847];
const s6660 = [108, 156, 204, 324, 552, 660, 700, 740, 780, 820, 860, 900, 940, 980, 1020, 1060, 1100, 1140, 1180, 1220, 1260, 1300, 1340, 1380, 1420, 1468, 1500, 1560, 1716, 1800, 1848, 1932, 1992, 2076, 2204, 2336, 2472, 2532, 2700, 2748, 2844, 2916, 3000, 3108, 3130, 3202, 3250, 3321, 3417, 3501, 3549, 3633, 3824, 3920, 3968, 4016, 4064, 4136, 4207, 4243, 4303, 4399, 4459, 4530, 4602, 4722, 4818, 5009, 5057, 5117, 5165, 5237, 5332, 5416, 5536, 5608, 5680, 5739, 5815, 5943, 5991, 6098, 6146, 6194, 6386, 6446, 6613, 6735, 6790, 6830, 6938, 7010, 7060, 7110, 7160, 7210, 7333, 7393, 7440, 7516, 7609, 7680, 7872, 7920, 7960, 7992, 8099, 8147, 8195, 8250, 8370, 8420, 8506, 8590, 8650, 8722, 8782, 8854, 8900, 8950, 9009, 9057, 9141, 9249, 9356, 9476, 9536, 9610, 9668];
const s6659 = [12, 48, 156, 204, 240, 468, 660, 756, 816, 924, 996, 1080, 1128, 1224, 1296, 1332, 1404, 1500, 1584, 1968, 2124, 2196, 2292, 2400, 2472, 2508, 2652, 2772, 2952, 3012, 3214, 3298, 3357, 3429, 3513, 3585, 3668, 3812, 4183, 4411, 4566, 4638, 4866, 5093, 5249, 5548, 5656, 5931, 5967, 6170, 6242, 6302, 6398, 6494, 6530, 6867, 6950, 6998, 7070, 7142, 7226, 7321, 7549, 7597, 7645, 7705, 7884, 7980, 8207, 8267, 8327, 8423, 8650, 8710, 8794, 8973, 9081, 9129, 9177, 9249, 9297, 9416, 9488, 9584, 9775, 9835, 9860];
const s6658 = [132, 348, 504, 624, 660, 888, 1296, 1992, 2136, 2304, 2364, 2544, 2604, 2700, 2808, 3012, 3108, 3226, 3405, 4662, 4710, 4842, 5033, 5213, 5500, 5943, 6146, 6362, 6446, 6661, 6695, 6795, 7082, 7393, 7465, 7525, 7980, 8435, 8602, 8674, 8710, 9033, 9548];
const s6657 = [156, 360, 636, 876, 1128, 1248, 1440, 1488, 1680, 1956, 2952, 3084, 3429, 3465, 3944, 4483, 4794, 5057, 5153, 5680, 5979, 6482, 6518, 6589, 6807, 7214, 7429, 7621, 7848, 7872, 8052, 8387, 8578, 9045, 9201, 9289, 9388, 9548];
const s6656 = [1224, 1608, 1872, 1968, 2508, 2808, 2856, 3238, 5069, 5117, 5380, 5572, 6831, 7094, 7130, 7573, 7693, 8770, 8925, 9009, 9632];
const s6655 = [108, 540, 696, 732, 900, 1068, 1152, 1368, 1488, 1620, 1716, 1932, 2136, 2508, 2628, 2724, 3048, 3096, 3118, 3190, 3393, 3513, 3657, 4112, 4291, 4363, 4387, 4566, 4782, 4926, 5021, 5261, 5488, 6727, 6855, 6914, 7501, 7992, 8211, 8315, 8411, 8459, 8842, 9488, 9715, 9799];
const s6654 = [264, 492, 804, 1320, 1620, 1668, 3405, 3728, 5285, 6650, 7046, 7908, 8698, 9464, 9608, 9679];
const s6653 = [2748, 7094, 8279];
const s6652 = [540, 732, 780, 3477, 3884, 6027, 6661, 6711, 8147, 8494, 8518, 8913];
const s6651 = [672, 1020, 1032, 1320, 2256, 3298, 4147, 4818, 6879, 7357, 7465, 7585, 7860, 8303, 8447, 9045, 9344];
const s6650 = [600, 2964, 7262, 7884, 8327, 9763];
const s6649 = [252, 288, 5847, 7705];
const s6648 = [3072];
const s6647 = [3036, 7896];

const rows: [number, number[]][] = [
  [6703, s6703], [6700, s6700], [6699, s6699], [6698, s6698], [6697, s6697], [6696, s6696], [6695, s6695],
  [6694, s6694], [6693, s6693], [6692, s6692], [6691, s6691], [6690, s6690], [6689, s6689], [6688, s6688],
  [6687, s6687], [6686, s6686], [6685, s6685], [6684, s6684], [6683, s6683], [6682, s6682], [6681, s6681],
  [6680, s6680], [6679, s6679], [6678, s6678], [6677, s6677], [6676, s6676], [6675, s6675], [6674, s6674],
  [6673, s6673], [6672, s6672], [6671, s6671], [6670, s6670], [6669, s6669], [6668, s6668], [6667, s6667],
  [6666, s6666], [6665, s6665], [6664, s6664], [6663, s6663], [6662, s6662], [6661, s6661], [6660, s6660],
  [6659, s6659], [6658, s6658], [6657, s6657], [6656, s6656], [6655, s6655], [6654, s6654], [6653, s6653],
  [6652, s6652], [6651, s6651], [6650, s6650], [6649, s6649], [6648, s6648], [6647, s6647],
];

const FONT = "DejaVu Sans";
const TITLE = "Run 513, channel117, Pedestal";
const X_NAME = "Sample #";
const Y_NAME = "ADC Counts";
const X_STEP = 2000;
const Y_STEP = 10;

export default function App() {
  const ref = useRef<HTMLDivElement>(null);
  useEffect(() => {
    const chart = echarts.init(ref.current!, undefined, { renderer: "svg" });
    const points = rows.flatMap(([level, xs]) => xs.map((x) => [x, level]));
    const axisCommon = {
      nameLocation: "middle" as const,
      nameTextStyle: { fontFamily: FONT, fontSize: 13.9, color: "#000" },
      axisLine: { show: false, onZero: false },
      axisTick: { show: true, length: 4, lineStyle: { color: "#000", width: 1 } },
      splitLine: { show: true, showMinLine: false, showMaxLine: false, lineStyle: { color: "#b0b0b0", width: 1 } },
    };
    chart.setOption({
      animation: false,
      backgroundColor: "#fff",
      title: {
        text: TITLE,
        left: 528,
        top: 8,
        textAlign: "center",
        textStyle: { fontFamily: FONT, fontSize: 16.7, fontWeight: "normal", color: "#000" },
      },
      grid: { left: 80.5, top: 35, width: 904.5, height: 907, show: true, borderColor: "#000", borderWidth: 1, backgroundColor: "transparent" },
      xAxis: {
        ...axisCommon,
        type: "value",
        name: X_NAME,
        nameGap: 28,
        min: -485,
        max: 10347,
        splitNumber: 5,
        axisLabel: {
          fontFamily: FONT, fontSize: 13.3, color: "#000", margin: 7,
          showMinLabel: false, showMaxLabel: false,
          formatter: (v: number) => (v % X_STEP === 0 ? String(v) : ""),
        },
      },
      yAxis: {
        ...axisCommon,
        type: "value",
        name: Y_NAME,
        nameGap: 53,
        min: 6644.15,
        max: 6705.85,
        splitNumber: 6,
        axisLabel: {
          fontFamily: FONT, fontSize: 13.3, color: "#000", margin: 7,
          showMinLabel: false, showMaxLabel: false,
          formatter: (v: number) => (v % Y_STEP === 0 ? String(v) : ""),
        },
      },
      series: [
        {
          name: "Samples",
          type: "scatter",
          symbol: "circle",
          symbolSize: 5.6,
          itemStyle: { color: "#000", opacity: 1 },
          silent: true,
          data: points,
        },
      ],
      graphic: [
        {
          type: "group",
          z: 100,
          children: [
            { type: "rect", shape: { x: 772.5, y: 42.5, width: 207, height: 45, r: 3 }, style: { fill: "rgba(255,255,255,0.8)", stroke: "#ccc", lineWidth: 1 } },
            { type: "circle", shape: { cx: 792, cy: 65, r: 2.8 }, style: { fill: "#000" } },
            { type: "text", x: 818, y: 47, style: { text: "Samples", fontFamily: FONT, fontSize: 13.9, fill: "#000" } },
            {
              type: "text",
              x: 818,
              y: 63,
              style: {
                text: "{i|μ} = 6673.82, {i|σ} = 7.92",
                fontFamily: FONT,
                fontSize: 13.9,
                fill: "#000",
                rich: { i: { fontFamily: FONT, fontStyle: "italic", fontSize: 13.9, fill: "#000" } },
              },
            },
          ],
        },
      ],
    });
    return () => chart.dispose();
  }, []);
  return <div ref={ref} style={{ position: "fixed", left: 0, top: 0, width: 1000, height: 1000 }} />;
}
